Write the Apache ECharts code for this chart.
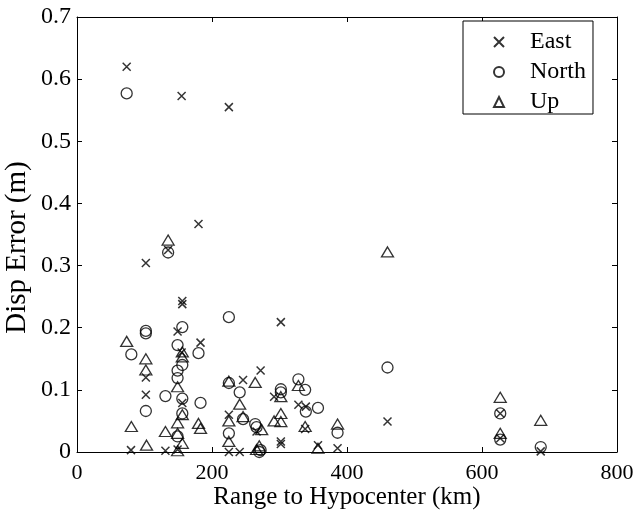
<!DOCTYPE html>
<html>
<head>
<meta charset="utf-8">
<script src="https://cdn.jsdelivr.net/npm/echarts@6/dist/echarts.min.js"></script>
<style>html,body{margin:0;padding:0;background:#fff}#c{width:637px;height:512px}</style>
</head>
<body>
<div id="c"></div>
<script>
var xTicks = [0, 200, 400, 600, 800];
var yTicks = [0, 0.1, 0.2, 0.3, 0.4, 0.5, 0.6, 0.7];
var seriesNames = ['East', 'North', 'Up'];

var east = [
  [73.6, 0.620], [155, 0.573], [225, 0.555], [180, 0.367], [102, 0.304], [135, 0.325],
  [156, 0.243], [156, 0.238], [302, 0.209], [149, 0.194], [183, 0.176], [155, 0.160],
  [272, 0.131], [102, 0.120], [246, 0.116], [102, 0.092], [292, 0.089], [156, 0.079],
  [328, 0.076], [339, 0.073], [225, 0.060], [460, 0.049], [338, 0.037], [266, 0.033],
  [302, 0.017], [302, 0.013], [357, 0.011], [386, 0.006], [627, 0.062], [627, 0.022],
  [687, 0.001], [80, 0.003], [131, 0.002], [225, 0.0], [241, 0.0], [149, 0.004]
];
var north = [
  [73.6, 0.577], [135, 0.321], [225, 0.217], [156, 0.201], [102, 0.195], [102, 0.191],
  [149, 0.172], [180, 0.159], [80.5, 0.157], [156, 0.140], [149, 0.131], [149, 0.119],
  [460, 0.136], [328, 0.117], [225, 0.111], [302, 0.101], [302, 0.096], [338, 0.100],
  [241, 0.096], [131, 0.090], [156, 0.086], [183, 0.079], [357, 0.071], [102, 0.066],
  [339, 0.065], [156, 0.062], [627, 0.062], [246, 0.053], [264, 0.045], [266, 0.040],
  [386, 0.031], [225, 0.030], [149, 0.025], [627, 0.020], [687, 0.008], [272, 0.003],
  [270, 0.0]
];
var up = [
  [460, 0.322], [135, 0.341], [73.6, 0.178], [156, 0.161], [156, 0.153], [102, 0.150],
  [102, 0.132], [225, 0.114], [264, 0.112], [328, 0.107], [149, 0.105], [627, 0.088],
  [302, 0.089], [241, 0.077], [156, 0.060], [246, 0.057], [687, 0.051], [225, 0.050],
  [302, 0.062], [302, 0.049], [292, 0.050], [149, 0.047], [180, 0.046], [183, 0.038],
  [338, 0.041], [386, 0.045], [80.5, 0.041], [131, 0.033], [273.6, 0.036], [149, 0.030],
  [627, 0.030], [225, 0.017], [156, 0.014], [103, 0.011], [270, 0.010], [357, 0.006],
  [149, 0.002], [266, 0.004]
];

var FONT = 'Liberation Serif';
var chart = echarts.init(document.getElementById('c'), null, {renderer: 'canvas'});

function axisCommon(show, size) {
  return {
    axisLine: {show: true, onZero: false, lineStyle: {color: '#000', width: 1}},
    axisTick: {show: true, inside: true, length: 5, lineStyle: {color: '#000', width: 1}},
    splitLine: {show: false},
    axisLabel: {show: show, color: '#000', fontFamily: FONT, fontSize: size || 22}
  };
}

var xBottom = Object.assign(axisCommon(true, 22), {
  type: 'value', position: 'bottom', min: xTicks[0], max: xTicks[xTicks.length - 1],
  interval: xTicks[1] - xTicks[0],
  name: 'Range to Hypocenter (km)', nameLocation: 'middle', nameGap: 33, nameMoveOverlap: false,
  nameTextStyle: {color: '#000', fontFamily: FONT, fontSize: 25}
});
xBottom.axisLabel.margin = 10;
var xTop = Object.assign(axisCommon(false), {
  type: 'value', position: 'top', min: xTicks[0], max: xTicks[xTicks.length - 1],
  interval: xTicks[1] - xTicks[0]
});
var yLeft = Object.assign(axisCommon(true, 24), {
  type: 'value', position: 'left', min: yTicks[0], max: yTicks[yTicks.length - 1],
  interval: 0.1,
  name: 'Disp Error (m)', nameLocation: 'middle', nameGap: 45, nameMoveOverlap: false,
  nameTextStyle: {color: '#000', fontFamily: FONT, fontSize: 29, padding: [0, 26, 0, 0]}
});
yLeft.axisLabel.margin = 6;
yLeft.axisLabel.formatter = function (v) { return String(Math.round(v * 10) / 10); };
var yRight = Object.assign(axisCommon(false), {
  type: 'value', position: 'right', min: yTicks[0], max: yTicks[yTicks.length - 1],
  interval: 0.1
});

var markStyle = {color: 'rgba(0,0,0,0)', borderColor: '#000', borderWidth: 1.3};

var option = {
  animation: false,
  backgroundColor: '#fff',
  grid: {left: 77, top: 17, right: 20, bottom: 60, containLabel: false, outerBoundsMode: 'none'},
  xAxis: [xBottom, xTop],
  yAxis: [yLeft, yRight],
  legend: {
    left: 463, top: 21, orient: 'vertical',
    backgroundColor: '#fff', borderColor: '#000', borderWidth: 1,
    padding: [9, 7, 0, 30], itemGap: 6, itemWidth: 10, itemHeight: 10,
    textStyle: {color: '#000', fontFamily: FONT, fontSize: 24, lineHeight: 23, padding: [0, 0, 0, 21]},
    data: seriesNames
  },
  series: [
    {name: seriesNames[0], type: 'scatter', data: east, symbol: 'path://M0,0L10,10M10,0L0,10',
     symbolSize: 8, itemStyle: Object.assign({}, markStyle, {borderWidth: 1.5})},
    {name: seriesNames[1], type: 'scatter', data: north, symbol: 'circle',
     symbolSize: 11, itemStyle: markStyle},
    {name: seriesNames[2], type: 'scatter', data: up, symbol: 'triangle',
     symbolSize: [12, 10], itemStyle: markStyle}
  ]
};
chart.setOption(option);
</script>
</body>
</html>
